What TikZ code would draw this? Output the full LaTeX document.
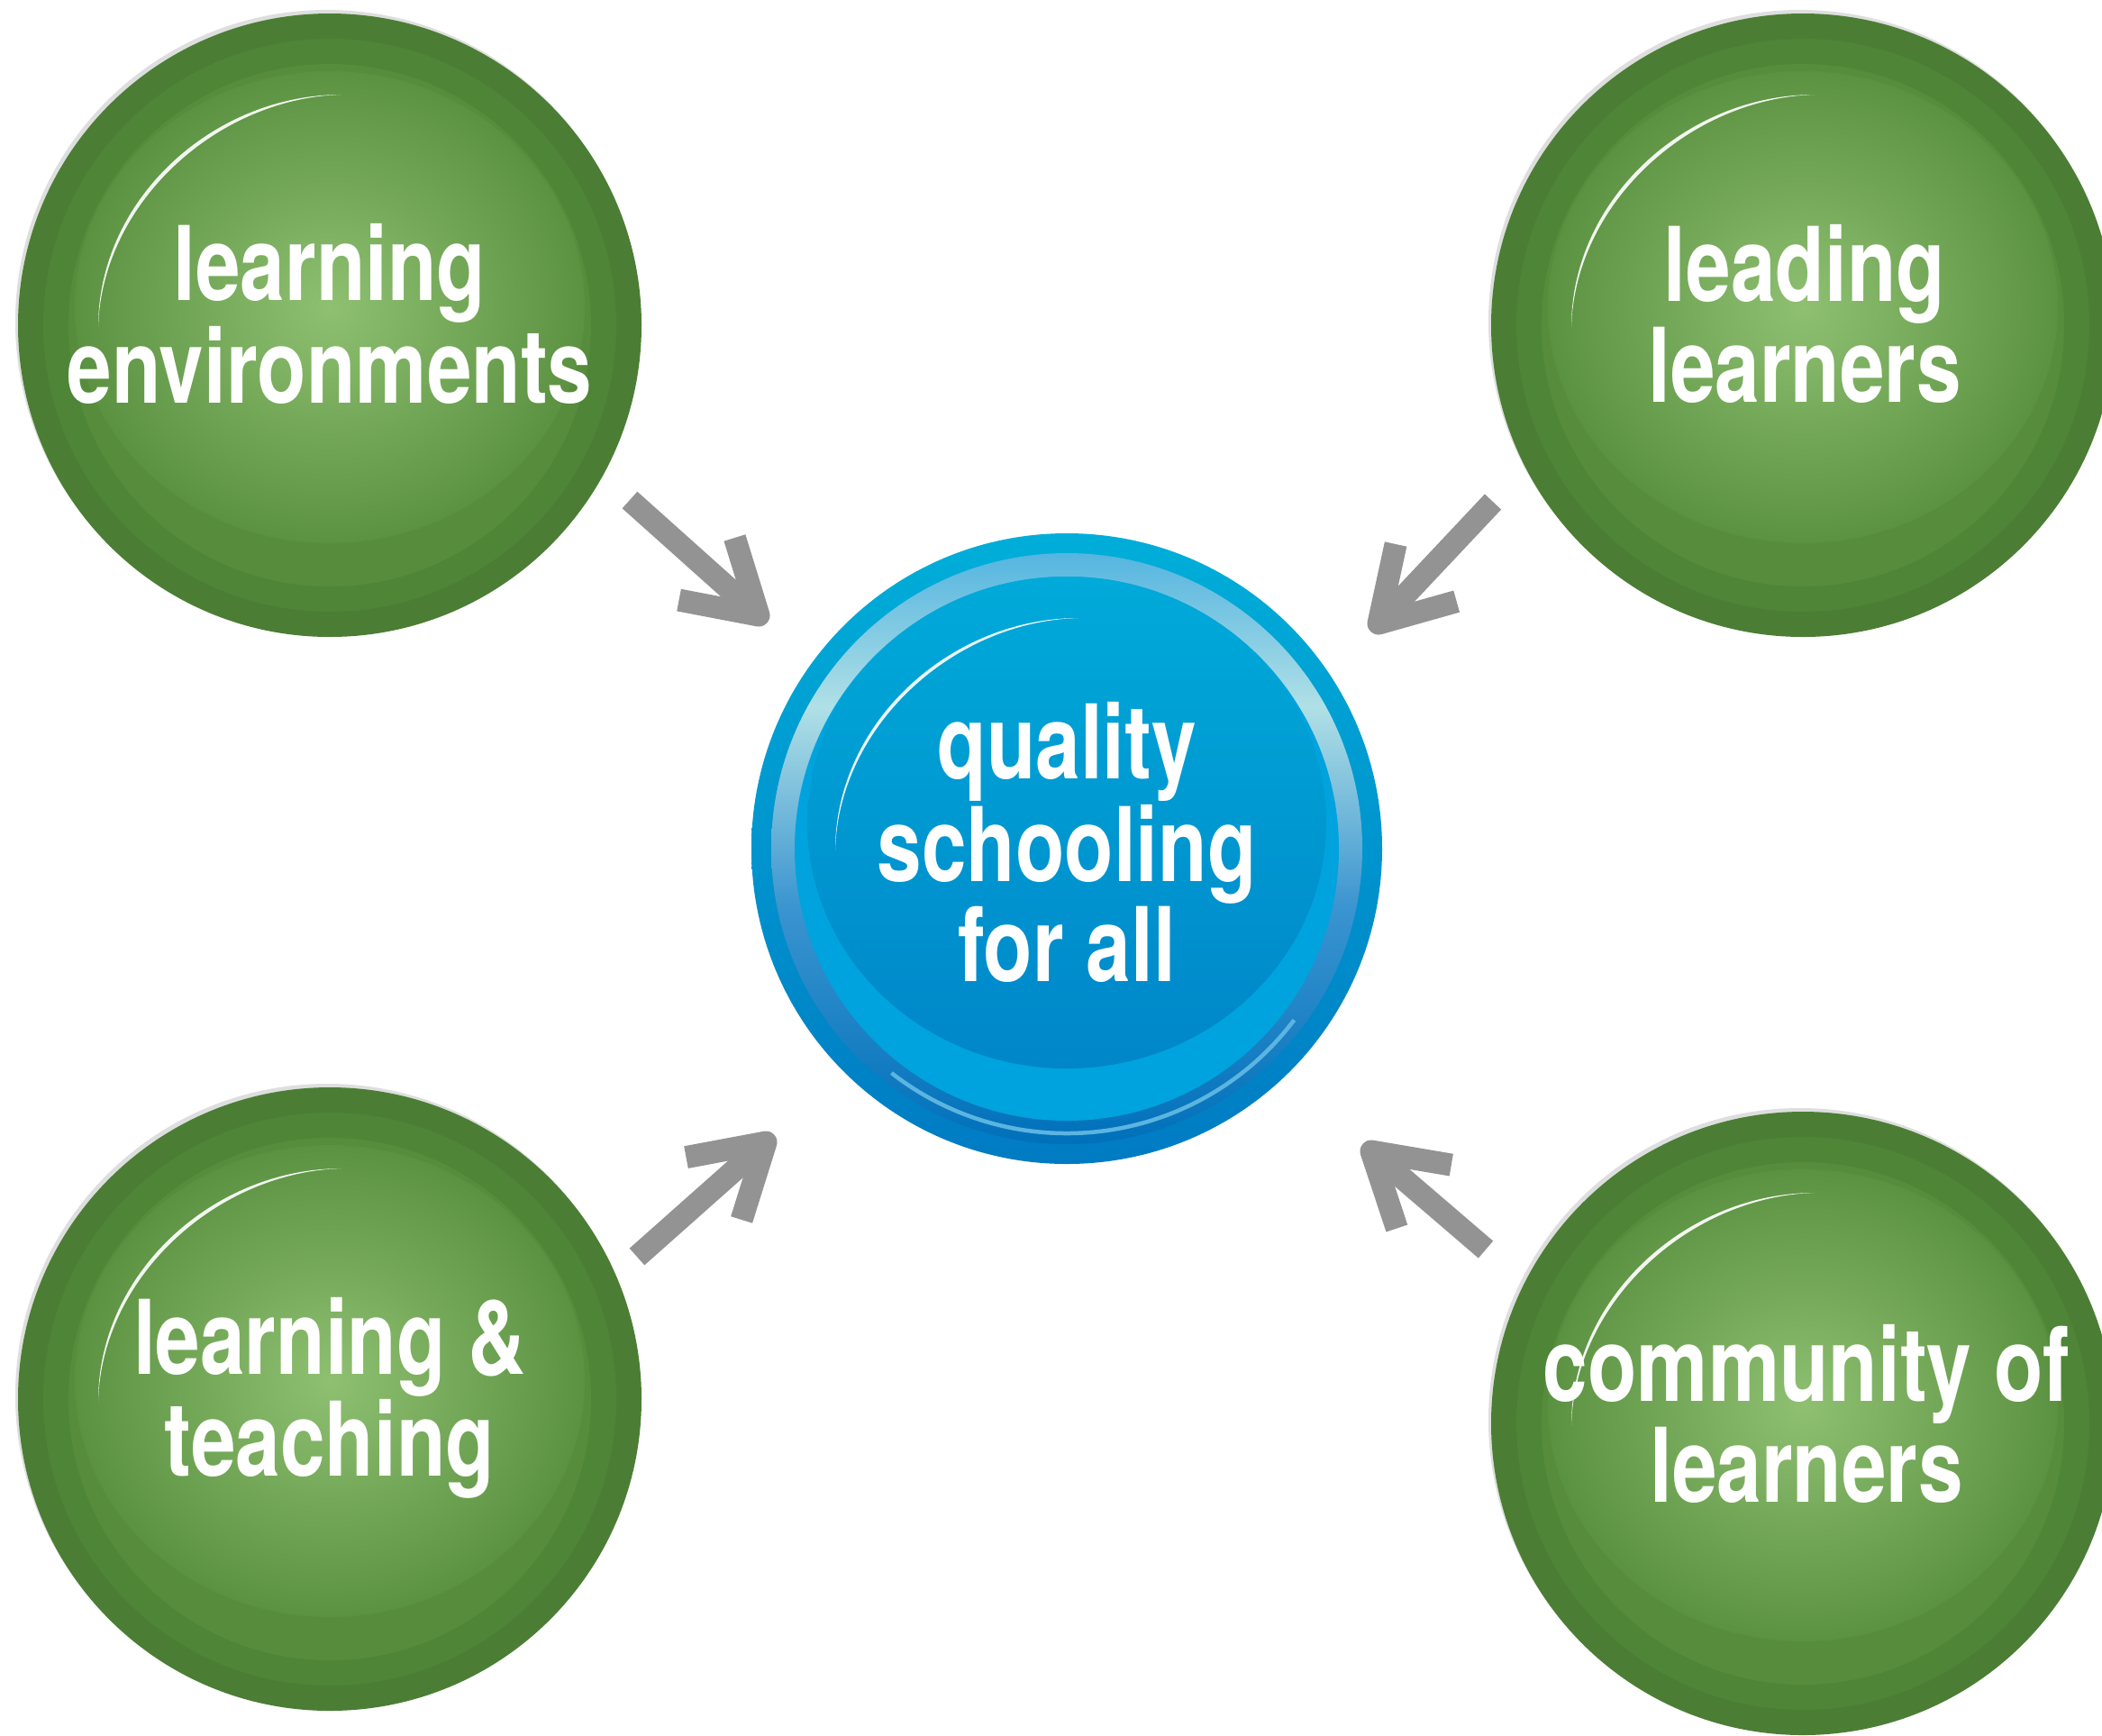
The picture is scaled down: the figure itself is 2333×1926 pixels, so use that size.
\documentclass[tikz,border=0pt]{standalone}
\usepackage{fontspec}
\setmainfont{TeX Gyre Heros}[FakeStretch=0.78, UprightFont=*-Bold, BoldFont=*-Bold]
\usetikzlibrary{calc}
\definecolor{gdark}{HTML}{4B7E34}
\definecolor{gring}{HTML}{4F8537}
\definecolor{gcres}{HTML}{568C3C}
\definecolor{gedge}{HTML}{5B9241}
\definecolor{glight}{HTML}{8FC072}
\definecolor{halo}{HTML}{DEDEDE}
\definecolor{btop}{HTML}{00AED9}
\definecolor{bbot}{HTML}{007BC3}
\definecolor{rtop}{HTML}{55B5E0}
\definecolor{rmid}{HTML}{B0E0E6}
\definecolor{rlow}{HTML}{3A94D0}
\definecolor{rbot}{HTML}{0070BA}
\definecolor{bcres}{HTML}{00A3DD}
\definecolor{ftop}{HTML}{00AAD9}
\definecolor{fbot}{HTML}{0086C9}
\definecolor{arrgray}{HTML}{939393}
\definecolor{bline}{HTML}{5BB5E0}
\pgfdeclareverticalshading{bringshade}{100bp}{color(0bp)=(rbot); color(25bp)=(rbot); color(45bp)=(rlow); color(62bp)=(rmid); color(75bp)=(rtop); color(100bp)=(rtop)}
\tikzset{
  ball/.style={circle, minimum size=6.92cm, inner sep=0pt},
  qball/.style={circle, minimum size=7cm, inner sep=0pt},
  lbl/.style={text=white, align=center, inner sep=0pt, font=\fontsize{32.5pt}{29.9pt}\selectfont},
  shaft/.style={draw=arrgray, line width=0.25cm, line cap=butt},
  barb/.style={draw=arrgray, line width=0.25cm, line cap=butt, line join=round}
}
\newcommand{\glint}[2]{%
  \fill[white, opacity=0.92] ($(#1)+(-257,2)$) .. controls ($(#1)+(-257,-140)$) and ($(#1)+(-129,-256)$) .. ($(#1)+(13,-256)$)
    .. controls ($(#1)+(-129+#2,-256+#2)$) and ($(#1)+(-257+#2,-140+#2)$) .. ($(#1)+(-257,2)$) -- cycle;}
\newcommand{\greenball}[1]{%
  \fill[halo] ($(#1.center)+(-3,-4)$) circle[radius=346];
  \fill[gdark] (#1.center) circle[radius=346];
  \fill[gring] (#1.center) circle[radius=318];
  \fill[gcres] (#1.center) circle[radius=290];
  \shade[inner color=glight, outer color=gedge] ($(#1.center)+(0,-20)$) ellipse[x radius=283, y radius=262];
  \glint{#1.center}{4}}
\newcommand{\chev}[2]{%
  \draw[shaft] (#2) -- (#1);
  \draw[barb] ($(#1)!0.9cm!31:(#2)$) -- (#1) -- ($(#1)!0.9cm!-31:(#2)$);}
\begin{document}
\begin{tikzpicture}[x=0.01cm,y=-0.01cm]
\useasboundingbox (0,0) rectangle (2333,1926);
\clip (0,0) rectangle (2333,1926);
\fill[white] (0,0) rectangle (2333,1926);

\node[ball] (le) at (366,361) {};
\node[ball] (ll) at (2001,361) {};
\node[ball] (lt) at (366,1553) {};
\node[ball] (cl) at (2001,1580) {};
\node[qball] (qs) at (1184,942) {};

\greenball{le}
\greenball{ll}
\greenball{lt}
\greenball{cl}

% blue button
\shade[top color=btop, bottom color=bbot] (qs.center) circle[radius=350];
\shade[shading=bringshade] (qs.center) circle[radius=328];
\fill[bcres] (qs.center) circle[radius=302];
\shade[top color=ftop, bottom color=fbot] ($(qs.center)+(0,-29)$) ellipse[x radius=288, y radius=273];
\draw[bline, line width=0.045cm] (qs.center) ++(37:316) arc[start angle=37, end angle=128, radius=316];
\glint{qs.center}{3.5}

% labels
\node[lbl] (le-t) at (366,348.5) {learning\\environments};
\node[lbl] (ll-t) at (2003,348.5) {leading\\learners};
\node[lbl] (lt-t) at (366,1552) {learning \&\\teaching};
\node[lbl] (cl-t) at (2005,1569) {community of\\learners};
\node[lbl] (qs-t) at (1184,935) {quality\\schooling\\for all};

% arrows
\coordinate (s1) at (699,555);   \coordinate (t1) at (842,683);
\coordinate (s2) at (1657,557);  \coordinate (t2) at (1530,692);
\coordinate (s3) at (707,1395);  \coordinate (t3) at (850,1268);
\coordinate (s4) at (1649,1387); \coordinate (t4) at (1522,1278);
\chev{t1}{s1}
\chev{t2}{s2}
\chev{t3}{s3}
\chev{t4}{s4}
\end{tikzpicture}
\end{document}
